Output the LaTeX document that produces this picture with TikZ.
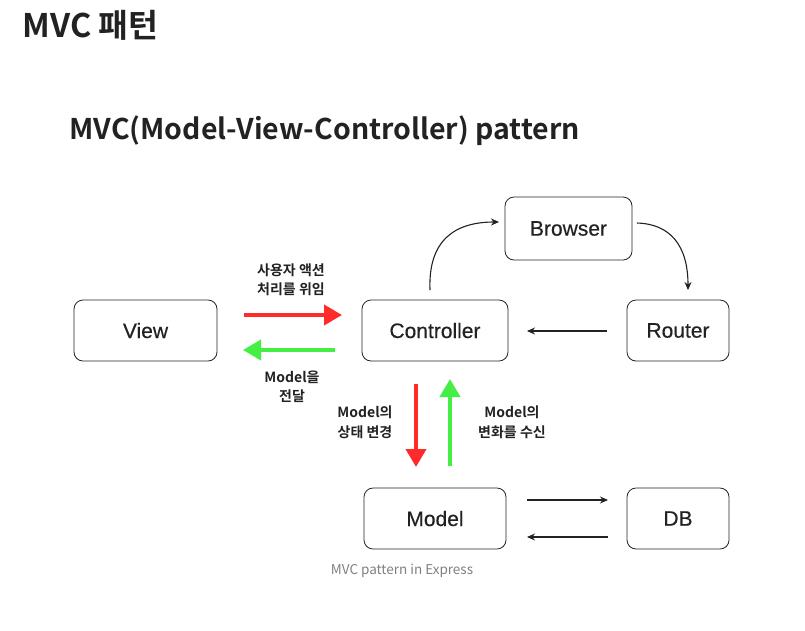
\documentclass[tikz,border=0pt]{standalone}
\usepackage{fontspec}
\setmainfont{Liberation Sans}
\newfontfamily\boxf[FakeBold=0.35]{Liberation Sans}
\newfontfamily\kr{Noto Sans CJK KR}
\newfontfamily\krb{Noto Sans CJK KR Bold}
\usetikzlibrary{arrows.meta}
\definecolor{hred}{HTML}{FF2A2A}
\definecolor{hgreen}{HTML}{44EE44}
\definecolor{ink}{HTML}{222222}
\tikzset{
  box/.style={draw=ink, line width=0.8pt, rounded corners=9pt, font=\boxf\fontsize{21}{24}\selectfont, text=ink},
  lbl/.style={font=\krb\fontsize{14}{19.5}\selectfont, align=center, text=ink},
  thin/.style={-{Stealth[length=8pt,width=7pt]}, line width=1.1pt, draw=ink},
  redarr/.style={-{Triangle[length=18pt,width=20pt]}, line width=4pt, draw=hred},
  grnarr/.style={-{Triangle[length=18pt,width=20pt]}, line width=4pt, draw=hgreen},
}
\begin{document}
\begin{tikzpicture}[x=1pt,y=-1pt]
\useasboundingbox (0,0) rectangle (805,630);
\node[anchor=west, font=\krb\fontsize{32.5}{34}\selectfont, text=ink] (h1) at (19,25) {MVC 패턴};
\node[anchor=west, font=\krb\fontsize{28.5}{32}\selectfont, text=ink] (h2) at (66,131) {MVC(Model-View-Controller) pattern};

\node[box, minimum width=143pt, minimum height=61pt] (view) at (145.5,330.5) {View};
\node[box, minimum width=146pt, minimum height=61pt] (ctrl) at (435,330.5) {Controller};
\node[box, minimum width=102pt, minimum height=61pt] (router) at (678,330.5) {Router};
\node[box, minimum width=127pt, minimum height=63pt] (browser) at (568.5,228.5) {Browser};
\node[box, minimum width=142pt, minimum height=61pt] (model) at (435,518.5) {Model};
\node[box, minimum width=102pt, minimum height=61pt] (db) at (678,518.5) {DB};

% curved arrows
\coordinate (c1) at (430,290);
\coordinate (b1) at (499,222);
\coordinate (b2) at (637,223);
\coordinate (r1) at (688,290);
\draw[thin] (c1) .. controls (428,240) and (455,222) .. (b1);
\draw[thin] (b2) .. controls (670,224) and (688,245) .. (r1);

% router -> controller
\coordinate (ra) at (607,331);
\coordinate (ca) at (527,331);
\draw[thin] (ra) -- (ca);

% model <-> db
\coordinate (m1) at (527,500);
\coordinate (d1) at (608,500);
\coordinate (d2) at (608,537);
\coordinate (m2) at (527,537);
\draw[thin] (m1) -- (d1);
\draw[thin] (d2) -- (m2);

% view <-> controller
\coordinate (vr) at (244,315);
\coordinate (cr) at (342,315);
\coordinate (cg) at (335,350);
\coordinate (vg) at (243,350);
\draw[redarr] (vr) -- (cr);
\draw[grnarr] (cg) -- (vg);
\node[lbl] (l1) at (291,280) {사용자 액션\\처리를 위임};
\node[lbl] (l2) at (292,387) {Model을\\전달};

% controller <-> model
\coordinate (rt) at (416,384);
\coordinate (rb) at (416,467);
\coordinate (gb) at (450,466);
\coordinate (gt) at (450,379);
\draw[redarr] (rt) -- (rb);
\draw[grnarr] (gb) -- (gt);
\node[lbl] (l3) at (365,422) {Model의\\상태 변경};
\node[lbl] (l4) at (512,422) {Model의\\변화를 수신};

\node[font=\kr\fontsize{13.5}{16}\selectfont, text=gray] (cap) at (402,571) {MVC pattern in Express};
\end{tikzpicture}
\end{document}
